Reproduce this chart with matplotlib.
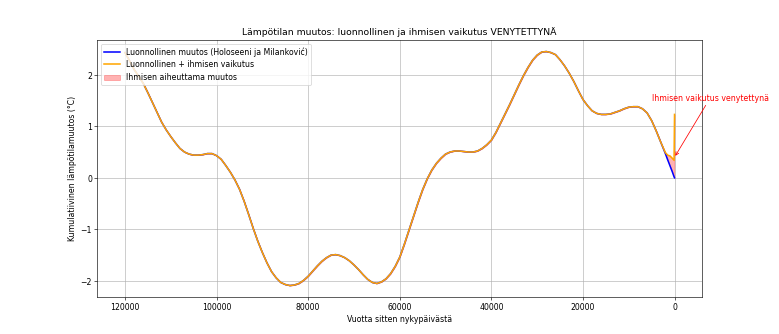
import numpy as np
import matplotlib
matplotlib.use("Agg")
import matplotlib.pyplot as plt

# vuotta sitten nykypäivästä (1000 v välein, tiheämmin lopussa)
years = np.array(list(range(120000, 1999, -1000)) + [1500, 1000, 500, 100, 0])

# luonnollinen kumulatiivinen muutos (°C)
natural = np.array([
    2.43, 2.27, 2.10, 1.97, 1.83, 1.65, 1.46, 1.27, 1.08, 0.93,   # 120k-111k
    0.80, 0.68, 0.57, 0.50, 0.46, 0.44, 0.44, 0.45, 0.47, 0.47,   # 110k-101k
    0.43, 0.36, 0.24, 0.11, -0.04, -0.22, -0.45, -0.71, -0.98, -1.23,  # 100k-91k
    -1.45, -1.65, -1.82, -1.94, -2.03, -2.07, -2.09, -2.08, -2.05, -1.99,  # 90k-81k
    -1.91, -1.81, -1.71, -1.62, -1.55, -1.50, -1.49, -1.51, -1.55, -1.61,  # 80k-71k
    -1.69, -1.78, -1.88, -1.97, -2.03, -2.05, -2.02, -1.96, -1.86, -1.72,  # 70k-61k
    -1.54, -1.29, -1.02, -0.75, -0.48, -0.23, -0.02, 0.15, 0.28, 0.38,    # 60k-51k
    0.46, 0.50, 0.52, 0.52, 0.51, 0.50, 0.50, 0.52, 0.57, 0.64,   # 50k-41k
    0.73, 0.88, 1.06, 1.24, 1.42, 1.61, 1.80, 1.98, 2.14, 2.28,   # 40k-31k
    2.38, 2.44, 2.45, 2.43, 2.39, 2.29, 2.17, 2.03, 1.87, 1.69,   # 30k-21k
    1.52, 1.40, 1.30, 1.25, 1.23, 1.23, 1.24, 1.27, 1.30, 1.34,   # 20k-11k
    1.37, 1.38, 1.38, 1.34, 1.26, 1.11, 0.91, 0.69, 0.47,         # 10k-2k
    0.35, 0.235, 0.12, 0.02, 0.00,                                # 1500-0
])

# ihmisen vaikutus, venytetty viimeisille vuosituhansille
human = np.zeros_like(natural)
human[-6:] = [0.02, 0.09, 0.19, 0.26, 0.32, 1.23]

total = natural + human

fig, ax = plt.subplots(figsize=(14, 6), dpi=55.714)

ax.plot(years, natural, color="blue", lw=2, label="Luonnollinen muutos (Holoseeni ja Milanković)")
ax.plot(years, total, color="orange", lw=2, label="Luonnollinen + ihmisen vaikutus")
ax.fill_between(years, natural, total, color="red", alpha=0.3, label="Ihmisen aiheuttama muutos")

ax.annotate("Ihmisen vaikutus venytettynä", xy=(0, 0.4), xytext=(5000, 1.5),
            color="red", arrowprops=dict(arrowstyle="->", color="red"))

ax.invert_xaxis()
ax.set_xlabel("Vuotta sitten nykypäivästä")
ax.set_ylabel("Kumulatiivinen lämpötilamuutos (°C)")
ax.set_title("Lämpötilan muutos: luonnollinen ja ihmisen vaikutus VENYTETTYNÄ")
ax.legend(loc="upper left")
ax.grid(True)

fig.savefig("out.png")
